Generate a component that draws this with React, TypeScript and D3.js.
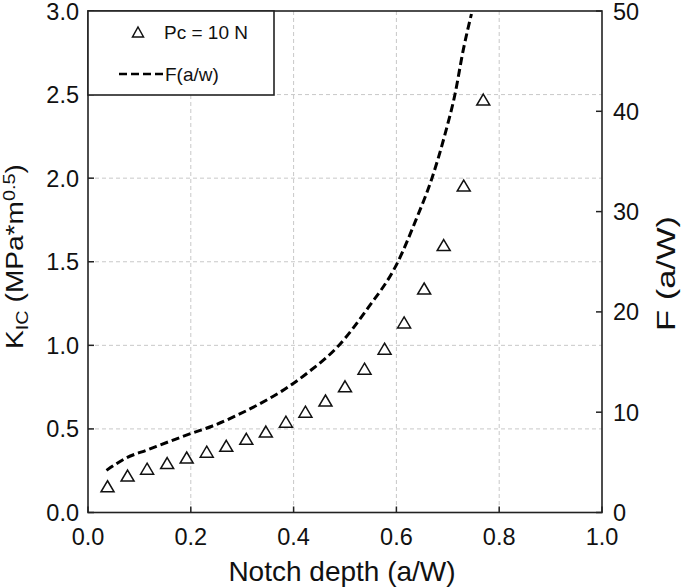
import React from "react";
import * as d3 from "d3";

// Measured KIC values (Pc = 10 N)
const notchDepth = [0.038, 0.077, 0.115, 0.154, 0.192, 0.231, 0.269, 0.308, 0.346, 0.385, 0.423, 0.462, 0.5, 0.538, 0.577, 0.615, 0.654, 0.692, 0.731, 0.769];
const kic = [0.157, 0.221, 0.262, 0.296, 0.329, 0.364, 0.399, 0.441, 0.484, 0.543, 0.603, 0.67, 0.755, 0.86, 0.98, 1.137, 1.34, 1.6, 1.956, 2.47];

// Geometry factor curve F(a/w)
const curveX = [0.036, 0.075, 0.117, 0.163, 0.2, 0.241, 0.286, 0.331, 0.377, 0.429, 0.487, 0.542, 0.603, 0.639, 0.669, 0.695, 0.714, 0.73, 0.746];
const curveF = [4.2, 5.45, 6.27, 7.17, 7.87, 8.6, 9.6, 10.75, 12.1, 14.0, 16.6, 20.2, 25.0, 29.3, 33.3, 37.8, 41.7, 46.1, 49.7];

const xTicks = [0, 0.2, 0.4, 0.6, 0.8, 1.0];
const yTicks = [0, 0.5, 1.0, 1.5, 2.0, 2.5, 3.0];
const y2Ticks = [0, 10, 20, 30, 40, 50];

const W = 685, H = 588;
const L = 88, R = 602, T = 11, B = 512.5;
const FONT = "Arial, 'Liberation Sans', Helvetica, sans-serif";

function tri(cx: number, cy: number, w: number, h: number) {
  return `M${cx},${cy - h / 2}L${cx + w / 2},${cy + h / 2}L${cx - w / 2},${cy + h / 2}Z`;
}

export default function App() {
  const x = d3.scaleLinear().domain([0, 1]).range([L, R]);
  const y = d3.scaleLinear().domain([0, 3]).range([B, T]);
  const y2 = d3.scaleLinear().domain([0, 50]).range([B, T]);

  const line = d3
    .line<number>()
    .x((_, i) => x(curveX[i]))
    .y((d) => y2(d))
    .curve(d3.curveMonotoneX);

  const axisColor = "#222";
  const gridColor = "#c8c8c8";

  return (
    <svg width={W} height={H} style={{ position: "absolute", left: 0, top: 0, background: "#fff" }} fontFamily={FONT}>
      {/* grid */}
      {xTicks.slice(1, -1).map((t) => (
        <line key={"gx" + t} x1={x(t)} x2={x(t)} y1={T} y2={B} stroke={gridColor} strokeWidth={1} strokeDasharray="4,3" />
      ))}
      {yTicks.slice(1, -1).map((t) => (
        <line key={"gy" + t} x1={L} x2={R} y1={y(t)} y2={y(t)} stroke={gridColor} strokeWidth={1} strokeDasharray="4,3" />
      ))}

      {/* curve */}
      <path d={line(curveF) || ""} fill="none" stroke="#000" strokeWidth={3} strokeDasharray="8,4" />

      {/* markers */}
      {notchDepth.map((d, i) => (
        <path key={"m" + i} d={tri(x(d), y(kic[i]), 13, 11)} fill="none" stroke="#111" strokeWidth={1.5} />
      ))}

      {/* frame */}
      <rect x={L} y={T} width={R - L} height={B - T} fill="none" stroke={axisColor} strokeWidth={1.6} />

      {/* bottom ticks */}
      {xTicks.map((t) => (
        <g key={"xt" + t}>
          <line x1={x(t)} x2={x(t)} y1={B} y2={B - 6} stroke={axisColor} strokeWidth={1.5} />
          <text x={x(t)} y={545} fontSize={23.5} textAnchor="middle" fill="#111">
            {t.toFixed(1)}
          </text>
        </g>
      ))}
      {/* left ticks */}
      {yTicks.map((t) => (
        <g key={"yt" + t}>
          <line x1={L} x2={L + 6} y1={y(t)} y2={y(t)} stroke={axisColor} strokeWidth={1.5} />
          <text x={79} y={y(t) + 8.5} fontSize={23.5} textAnchor="end" fill="#111">
            {t.toFixed(1)}
          </text>
        </g>
      ))}
      {/* right ticks */}
      {y2Ticks.map((t) => (
        <g key={"y2t" + t}>
          <line x1={R} x2={R - 6} y1={y2(t)} y2={y2(t)} stroke={axisColor} strokeWidth={1.5} />
          <text x={613} y={y2(t) + 8.5} fontSize={23.5} textAnchor="start" fill="#111">
            {t}
          </text>
        </g>
      ))}

      {/* axis titles */}
      <text x={(L + R) / 2 - 3} y={581} fontSize={28} textAnchor="middle" fill="#111">
        Notch depth (a/W)
      </text>
      <text transform={`translate(22.5,${256.5}) rotate(-90) scale(1.17,1)`} fontSize={24} textAnchor="middle" fill="#111">
        K<tspan fontSize={17} dy={5}>IC</tspan>
        <tspan dy={-5}> (MPa*m</tspan>
        <tspan fontSize={17} dy={-8}>0.5</tspan>
        <tspan dy={8}>)</tspan>
      </text>
      <text transform={`translate(675,${273.5}) rotate(-90) scale(1.38,1)`} fontSize={25} textAnchor="middle" fill="#111">
        F (a/W)
      </text>

      {/* legend */}
      <rect x={L} y={T} width={274 - L} height={95 - T} fill="#fff" stroke={axisColor} strokeWidth={1.6} />
      <path d={tri(138, 32, 11, 10)} fill="none" stroke="#111" strokeWidth={1.5} />
      <text x={164} y={39} fontSize={19} fill="#111">
        Pc = 10 N
      </text>
      <line x1={119} x2={164} y1={74} y2={74} stroke="#000" strokeWidth={2.5} strokeDasharray="8,4" />
      <text x={165} y={81} fontSize={19} fill="#111">
        F(a/w)
      </text>
    </svg>
  );
}
